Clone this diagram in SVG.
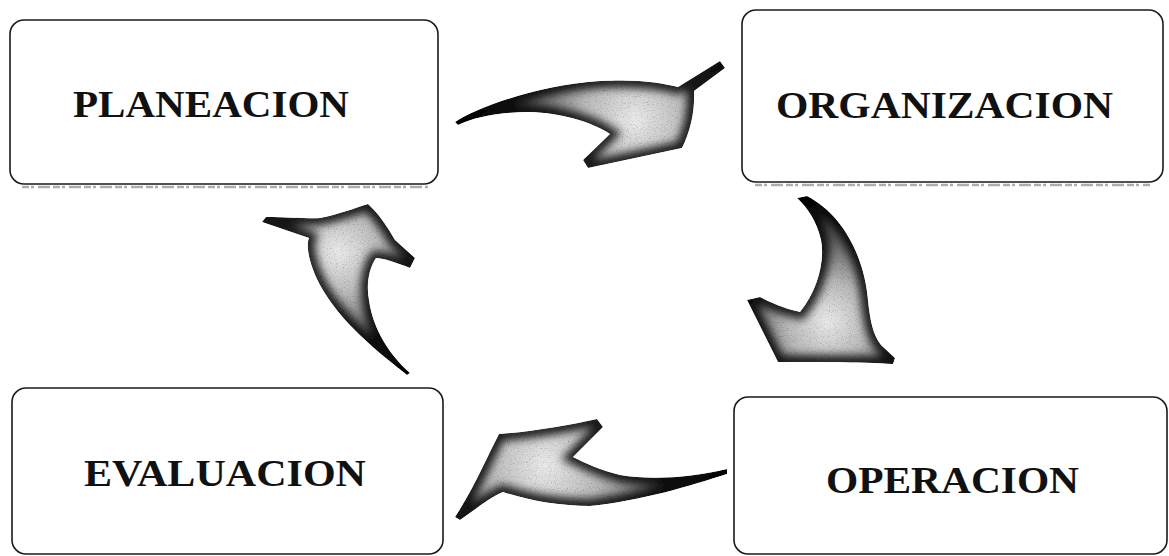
<svg xmlns="http://www.w3.org/2000/svg" xmlns:xlink="http://www.w3.org/1999/xlink" width="1169" height="556" viewBox="0 0 1169 556">
<style>
.box{fill:#fff;stroke:#1a1a1a;stroke-width:1.6}
.lbl{font-family:"Liberation Serif","Times New Roman",serif;font-weight:bold;font-size:38px;fill:#111}
.shadow{stroke:#9a9a9a;stroke-width:2.5;stroke-dasharray:7 2 3 4 12 3;opacity:.8}
.edge{fill:none;stroke:#000;stroke-width:14;opacity:.85;filter:url(#soft)}
</style>
<defs>
<radialGradient id="gbase" gradientUnits="userSpaceOnUse">
<stop offset="0" stop-color="#ebebeb"/>
<stop offset="0.3" stop-color="#b8b8b8"/>
<stop offset="0.62" stop-color="#5a5a5a"/>
<stop offset="1" stop-color="#121212"/>
</radialGradient>
<radialGradient id="g1" href="#gbase" xlink:href="#gbase" cx="635" cy="120" r="175"/>
<radialGradient id="g2" href="#gbase" xlink:href="#gbase" cx="828" cy="322" r="135"/>
<radialGradient id="g3" href="#gbase" xlink:href="#gbase" cx="545" cy="465" r="190"/>
<radialGradient id="g4" href="#gbase" xlink:href="#gbase" cx="338" cy="252" r="145"/>
<filter id="soft" x="-20%" y="-20%" width="140%" height="140%"><feGaussianBlur stdDeviation="4"/></filter>
<filter id="grain" x="0" y="0" width="1" height="1">
<feTurbulence type="fractalNoise" baseFrequency="0.85" numOctaves="2" seed="4" result="n"/>
<feColorMatrix in="n" type="matrix" values="0.33 0.33 0.33 0 0  0.33 0.33 0.33 0 0  0.33 0.33 0.33 0 0  0 0 0 0 1" result="gr"/>
<feComponentTransfer in="gr" result="gc"><feFuncR type="linear" slope="1.8" intercept="0.12"/><feFuncG type="linear" slope="1.8" intercept="0.12"/><feFuncB type="linear" slope="1.8" intercept="0.12"/></feComponentTransfer>
<feBlend mode="multiply" in="SourceGraphic" in2="gc" result="m"/>
<feComposite operator="in" in="m" in2="SourceGraphic"/>
</filter>
<path id="a1" d="M455,122 C480,106 540,85 600,81 C640,79 662,83 678,87 L720,61 L725,68 L694,91 C695,110 691,130 682,148 L588,168 L583,160 L610,134 C590,121 560,113 530,112 C500,112 475,117 458,125 Z"/>
<path id="a2" d="M797,198 L807,196 C842,214 864,255 868,300 C870,320 873,335 881,345 L895,358 L893,364 C860,362 810,362 778,362 L747,300 L760,297 C775,305 790,310 800,312 C818,290 825,260 821,240 C817,222 808,208 797,198 Z"/>
<path id="a3" d="M727,469 C690,478 650,480 620,475 C600,470 585,463 573,457 L603,427 L597,419 C570,425 530,432 499,434 C488,455 473,490 455,517 L460,520 C475,510 490,497 503,492 C530,501 560,506 590,506 C640,501 690,486 727,474 Z"/>
<path id="a4" d="M407,375 C378,352 340,322 320,285 C308,262 306,245 309,238 L262,222 L266,217 C290,217 310,219 320,218 C340,214 355,208 368,204 C380,215 388,228 395,240 L415,258 L410,268 C395,262 382,258 376,258 C369,268 366,285 369,300 C373,330 390,355 410,373 Z"/>
<clipPath id="c1"><use href="#a1" xlink:href="#a1"/></clipPath>
<clipPath id="c2"><use href="#a2" xlink:href="#a2"/></clipPath>
<clipPath id="c3"><use href="#a3" xlink:href="#a3"/></clipPath>
<clipPath id="c4"><use href="#a4" xlink:href="#a4"/></clipPath>
</defs>
<rect width="1169" height="556" fill="#fff"/>
<g id="node-planeacion">
<line class="shadow" x1="22" y1="187" x2="428" y2="187"/>
<rect class="box" x="10" y="20" width="428" height="164" rx="14"/>
<text class="lbl" x="73" y="117" textLength="276" lengthAdjust="spacingAndGlyphs">PLANEACION</text>
</g>
<g id="node-organizacion">
<line class="shadow" x1="755" y1="185" x2="1150" y2="185"/>
<rect class="box" x="742" y="10" width="421" height="172" rx="14"/>
<text class="lbl" x="776" y="118" textLength="337" lengthAdjust="spacingAndGlyphs">ORGANIZACION</text>
</g>
<g id="node-evaluacion">
<rect class="box" x="12" y="388" width="431" height="166" rx="14"/>
<text class="lbl" x="84" y="486" textLength="282" lengthAdjust="spacingAndGlyphs">EVALUACION</text>
</g>
<g id="node-operacion">
<rect class="box" x="734" y="397" width="433" height="157" rx="14"/>
<text class="lbl" x="826" y="493" textLength="253" lengthAdjust="spacingAndGlyphs">OPERACION</text>
</g>
<g id="connectors">
<g filter="url(#grain)"><use href="#a1" xlink:href="#a1" fill="url(#g1)"/><use href="#a1" xlink:href="#a1" class="edge" clip-path="url(#c1)"/></g>
<g filter="url(#grain)"><use href="#a2" xlink:href="#a2" fill="url(#g2)"/><use href="#a2" xlink:href="#a2" class="edge" clip-path="url(#c2)"/></g>
<g filter="url(#grain)"><use href="#a3" xlink:href="#a3" fill="url(#g3)"/><use href="#a3" xlink:href="#a3" class="edge" clip-path="url(#c3)"/></g>
<g filter="url(#grain)"><use href="#a4" xlink:href="#a4" fill="url(#g4)"/><use href="#a4" xlink:href="#a4" class="edge" clip-path="url(#c4)"/></g>
</g>
</svg>
